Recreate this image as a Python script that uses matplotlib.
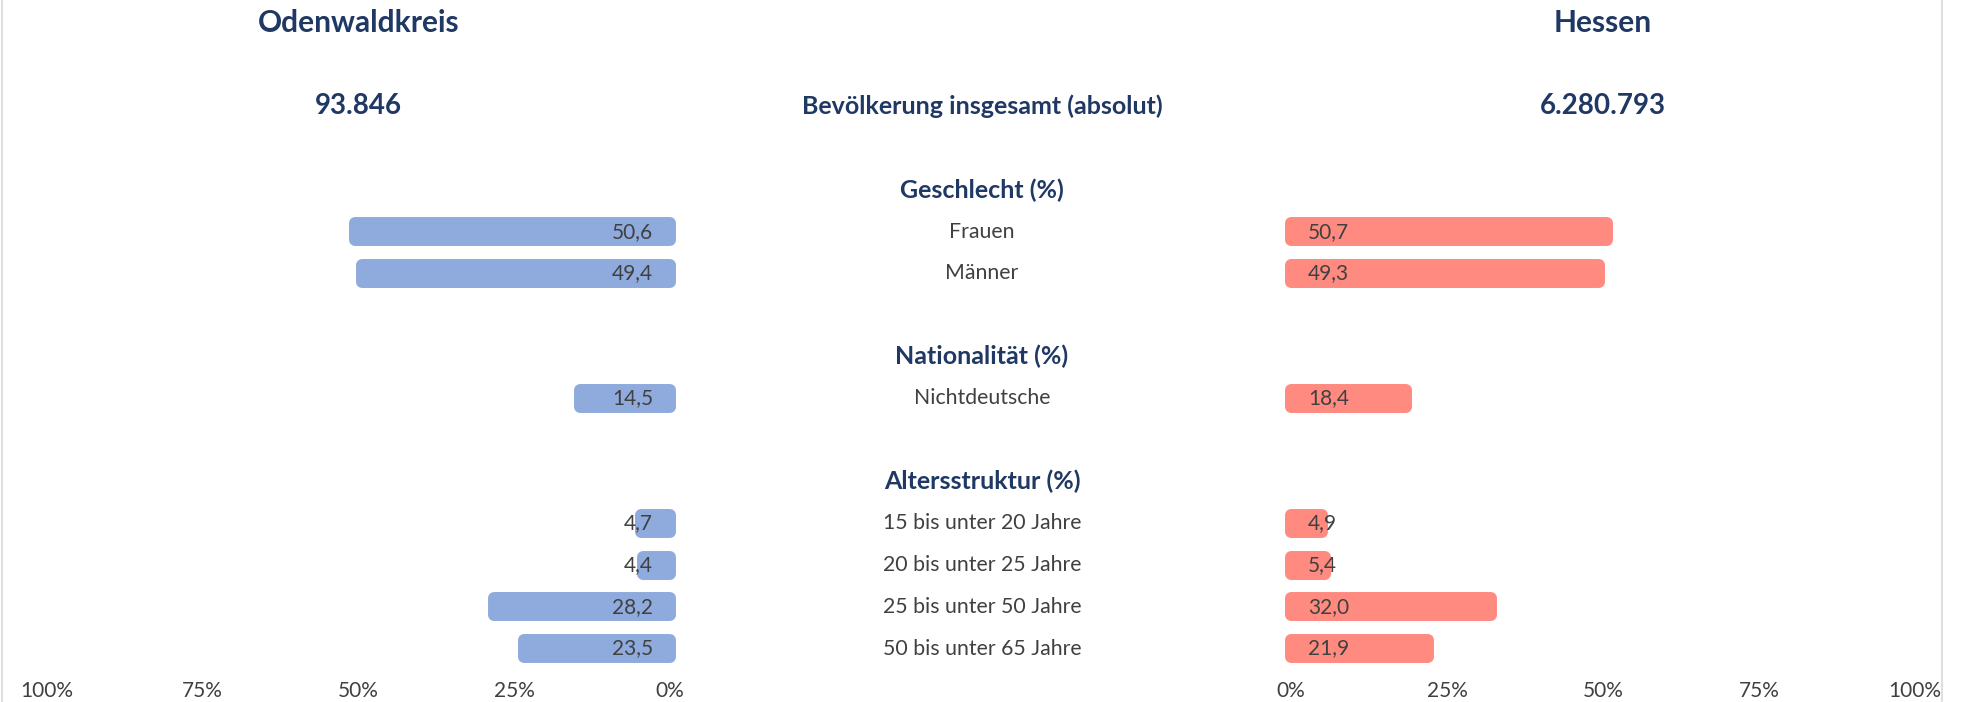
import matplotlib.pyplot as plt
from matplotlib.lines import Line2D
from matplotlib.transforms import blended_transform_factory

plt.rcParams["font.family"] = ["Lato", "DejaVu Sans"]

# Daten
region_left = "Odenwaldkreis"
region_right = "Hessen"
total_left = "93.846"
total_right = "6.280.793"
total_label = "Bevölkerung insgesamt (absolut)"

groups = ["Geschlecht (%)", "Nationalität (%)", "Altersstruktur (%)"]
group_items = [
    ["Frauen", "Männer"],
    ["Nichtdeutsche"],
    ["15 bis unter 20 Jahre", "20 bis unter 25 Jahre", "25 bis unter 50 Jahre", "50 bis unter 65 Jahre"],
]
values_left = [50.6, 49.4, 14.5, 4.7, 4.4, 28.2, 23.5]
values_right = [50.7, 49.3, 18.4, 4.9, 5.4, 32.0, 21.9]
ticks = [0, 25, 50, 75, 100]

navy = "#1F3864"
grey = "#404040"
blue = "#8FAADC"
red = "#FF8A80"

# Zeilen: Leerzeile + Überschrift + Einträge je Gruppe
header_rows = []
item_rows = []
labels = []
r = 0
for g, items in zip(groups, group_items):
    r += 2
    header_rows.append(r)
    for it in items:
        r += 1
        item_rows.append(r)
        labels.append(it)

fig = plt.figure(figsize=(19.64, 7.02), dpi=100)
W, H = 1964, 702
bottom = (H - 673.6) / H
ax_l = fig.add_axes([47 / W, bottom, (670 - 47) / W, 1 - bottom])
ax_r = fig.add_axes([1291 / W, bottom, (1915 - 1291) / W, 1 - bottom])

for ax, vals, col in [(ax_l, values_left, blue), (ax_r, values_right, red)]:
    bars = ax.barh(item_rows, vals, height=0.41, color=col, edgecolor=col, linewidth=8.6)
    for b in bars:
        b.set_joinstyle("round")
        b.set_clip_on(False)
    ax.set_ylim(13.6, -2.554)
    ax.set_xticks(ticks)
    ax.set_xticklabels([f"{t}%" for t in ticks])
    ax.tick_params(axis="x", length=0, pad=5, labelsize=15, labelcolor=grey)
    ax.set_yticks([])
    for s in ax.spines.values():
        s.set_visible(False)
    ax.patch.set_alpha(0)

ax_l.set_xlim(100, 0)
ax_r.set_xlim(0, 100)

for y, v in zip(item_rows, values_left):
    ax_l.text(2.7, y, f"{v:.1f}".replace(".", ","), ha="right", va="center", fontsize=15, color=grey)
for y, v in zip(item_rows, values_right):
    ax_r.text(2.7, y, f"{v:.1f}".replace(".", ","), ha="left", va="center", fontsize=15, color=grey)

# Kopfzeilen
ax_l.text(50, -2, region_left, ha="center", va="center", fontsize=21.5, fontweight="bold", color=navy)
ax_r.text(50, -2, region_right, ha="center", va="center", fontsize=21.5, fontweight="bold", color=navy)
ax_l.text(50, 0, total_left, ha="center", va="center", fontsize=20, fontweight="bold", color=navy)
ax_r.text(50, 0, total_right, ha="center", va="center", fontsize=20, fontweight="bold", color=navy)

mid = blended_transform_factory(fig.transFigure, ax_l.transData)
ax_l.text(0.5, 0, total_label, transform=mid, ha="center", va="center", fontsize=18, fontweight="bold", color=navy, clip_on=False)
for y, g in zip(header_rows, groups):
    ax_l.text(0.5, y, g, transform=mid, ha="center", va="center", fontsize=18, fontweight="bold", color=navy, clip_on=False)
for y, lab in zip(item_rows, labels):
    ax_l.text(0.5, y, lab, transform=mid, ha="center", va="center", fontsize=15.3, color=grey, clip_on=False)

# Rahmen links/rechts
for x in [1.5 / W, 1942 / W]:
    fig.add_artist(Line2D([x, x], [0, 1], color="#D9D9D9", linewidth=1.2))

plt.savefig("out.png", dpi=100)
